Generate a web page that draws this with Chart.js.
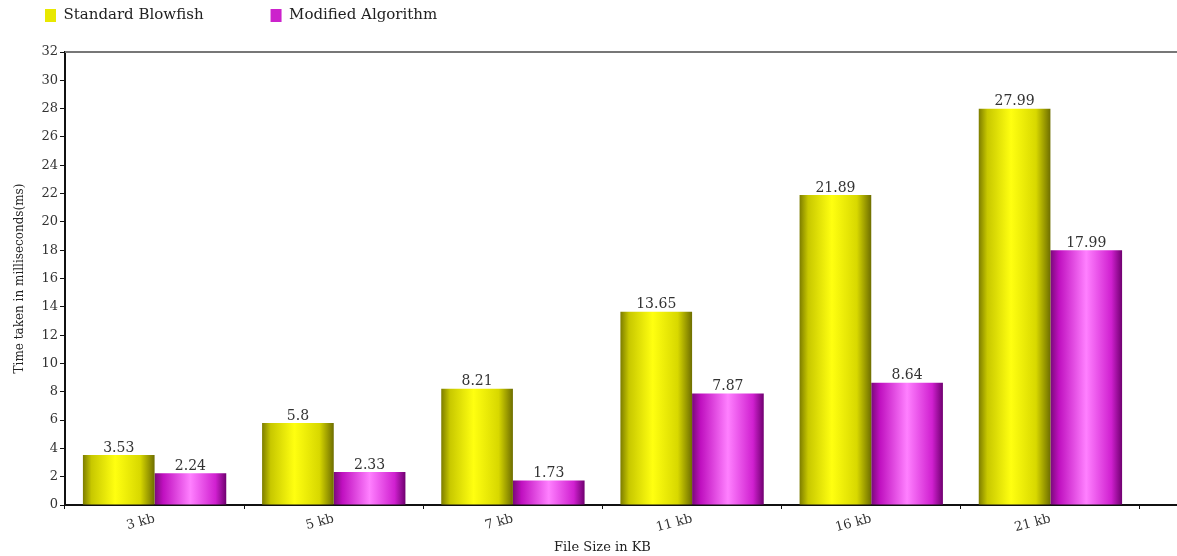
<!DOCTYPE html>
<html>
<head>
<meta charset="utf-8">
<script src="https://cdn.jsdelivr.net/npm/chart.js@4/dist/chart.umd.min.js"></script>
<style>
body{margin:0;background:#fff}
#wrap{width:1177px;height:556px}
</style>
</head>
<body>
<div id="wrap"><canvas id="chart"></canvas></div>
<script>
const labels = ["3 kb","5 kb","7 kb","11 kb","16 kb","21 kb"];
const blowfish = [3.53,5.8,8.21,13.65,21.89,27.99];
const modified = [2.24,2.33,1.73,7.87,8.64,17.99];
const yMax = 32, yStep = 2;

const serif = "'DejaVu Serif', 'Liberation Serif', serif";
const legendPad = 67;

const yellowStops = [[0,'#7d7d00'],[0.12,'#c8c800'],[0.45,'#ffff10'],[0.8,'#d8d800'],[1,'#6e6e00']];
const pinkStops = [[0,'#7a0a7a'],[0.12,'#c010c0'],[0.5,'#ff80ff'],[0.85,'#d020d0'],[1,'#700070']];
const legendColors = ['#e8e800','#cc22cc'];

function barFill(c, stops, flat){
  const chart = c.chart, x = chart.scales.x;
  if(!x || c.dataIndex === undefined) return flat;
  const half = (x.width / labels.length) * 0.8 / 2;
  const cx = x.getPixelForValue(c.dataIndex);
  if(!isFinite(half) || !isFinite(cx) || half <= 0) return flat;
  const x0 = c.datasetIndex === 0 ? cx - half : cx;
  const g = chart.ctx.createLinearGradient(x0, 0, x0 + half, 0);
  stops.forEach(s => g.addColorStop(s[0], s[1]));
  return g;
}

const frame = {
  id:'frame',
  afterLayout(chart){
    // nudge the legend into the top-left corner like the original
    chart.legend.left = 45 - legendPad;
    chart.legend.top = 8 - legendPad;
  },
  afterDraw(chart){
    const {ctx, chartArea:a} = chart;
    ctx.save();
    ctx.lineWidth = 2;
    ctx.strokeStyle = '#777';
    ctx.beginPath(); ctx.moveTo(a.left, a.top); ctx.lineTo(chart.width, a.top); ctx.stroke();
    ctx.strokeStyle = '#111';
    ctx.beginPath(); ctx.moveTo(a.right, a.bottom); ctx.lineTo(chart.width, a.bottom); ctx.stroke();
    ctx.restore();
  },
  afterDatasetsDraw(chart){
    const ctx = chart.ctx;
    ctx.save();
    ctx.font = "14px " + serif;
    ctx.fillStyle = '#333';
    ctx.textAlign = 'center';
    ctx.textBaseline = 'bottom';
    chart.data.datasets.forEach((ds, i) => {
      chart.getDatasetMeta(i).data.forEach((el, j) => {
        ctx.fillText(String(ds.data[j]), el.x, el.y);
      });
    });
    ctx.restore();
  }
};

new Chart(document.getElementById('chart'), {
  type:'bar',
  data:{
    labels:labels,
    datasets:[{
      label:'Standard Blowfish',
      data:blowfish,
      backgroundColor:c => barFill(c, yellowStops, legendColors[0])
    },{
      label:'Modified Algorithm',
      data:modified,
      backgroundColor:c => barFill(c, pinkStops, legendColors[1])
    }]
  },
  options:{
    responsive:true,
    maintainAspectRatio:false,
    animation:false,
    layout:{padding:{top:18,right:37,left:0,bottom:0}},
    datasets:{bar:{categoryPercentage:0.8,barPercentage:1,borderWidth:0}},
    plugins:{
      tooltip:{enabled:false},
      legend:{
        position:'top',
        align:'start',
        maxHeight:34,
        labels:{
          font:{family:serif,size:15},
          color:'#222',
          boxWidth:11,
          boxHeight:13,
          padding:legendPad,
          generateLabels:chart => chart.data.datasets.map((ds, i) => ({
            text:ds.label,
            fillStyle:legendColors[i],
            strokeStyle:legendColors[i],
            lineWidth:0,
            hidden:false,
            datasetIndex:i,
            fontColor:'#222'
          }))
        }
      }
    },
    scales:{
      x:{
        afterFit:s => { s.height = 51; },
        grid:{offset:true,drawOnChartArea:false,tickLength:4,color:'#111'},
        border:{color:'#111',width:2},
        ticks:{font:{family:serif,size:13},color:'#333',minRotation:15,maxRotation:15,padding:2},
        title:{display:true,text:'File Size in KB',font:{family:serif,size:13},color:'#222',padding:{top:0,bottom:1}}
      },
      y:{
        min:0,
        max:yMax,
        afterFit:s => { s.width = 65; },
        grid:{drawOnChartArea:false,tickLength:5,color:'#111'},
        border:{color:'#111',width:2},
        ticks:{stepSize:yStep,font:{family:serif,size:13},color:'#333',padding:2},
        title:{display:true,text:'Time taken in milliseconds(ms)',font:{family:serif,size:12},color:'#222',padding:{top:13,bottom:0}}
      }
    }
  },
  plugins:[frame]
});
</script>
</body>
</html>
